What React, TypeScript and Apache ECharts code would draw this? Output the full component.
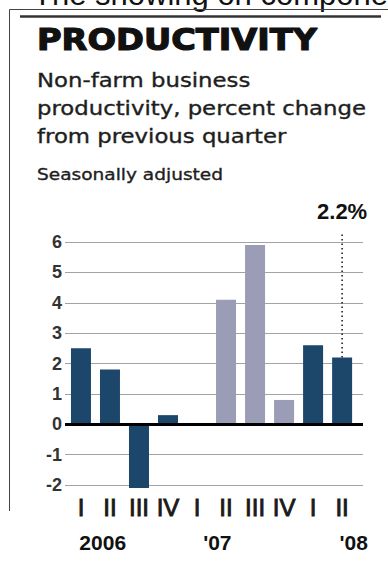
import React, { useEffect, useRef } from "react";
import * as echarts from "echarts";

const quarterLabels = ["I", "II", "III", "IV", "I", "II", "III", "IV", "I", "II"];
const barYears = [2006, 2006, 2006, 2006, 2007, 2007, 2007, 2007, 2008, 2008];
const productivity = [2.5, 1.8, -2.1, 0.3, 0, 4.1, 5.9, 0.8, 2.6, 2.2];
const yearLabels = ["2006", "'07", "'08"];
const yearLabelPositions = [0.75, 4.7, 9.4];
const yMin = -2;
const yMax = 6;
const highlightIndex = 9;
const highlightText = "2.2%";
const highlightLineTop = 6.27;

const NAVY = "#1d466b";
const GRAY = "#9b9cb5";

export default function App() {
  const ref = useRef<HTMLDivElement>(null);
  useEffect(() => {
    if (!ref.current) return;
    const chart = echarts.init(ref.current, undefined, { renderer: "svg" });
    const quarterPositions = quarterLabels.map((_, i) => i);
    const subStyle = (text: string, size: number) => ({
      text,
      fill: "#1e1e1e",
      stroke: "#1e1e1e",
      lineWidth: 0.35,
      font: `${size}px 'DejaVu Sans', sans-serif`,
      verticalAlign: "middle",
    });
    chart.setOption({
      animation: false,
      backgroundColor: "#ffffff",
      grid: { left: 65, right: 25, top: 242, bottom: 79, containLabel: false },
      xAxis: [
        {
          type: "value",
          min: -0.55,
          max: 9.72,
          axisLine: { show: false },
          axisTick: { show: false },
          splitLine: { show: false },
          axisLabel: {
            customValues: quarterPositions,
            formatter: (v: number) => quarterLabels[Math.round(v)] ?? "",
            margin: 22,
            verticalAlign: "middle",
            color: "#1a1a1a",
            fontFamily: "'Liberation Sans', Arial, sans-serif",
            fontSize: 24,
            textBorderColor: "#1a1a1a",
            textBorderWidth: 0.9,
          },
        },
        {
          type: "value",
          position: "bottom",
          min: -0.55,
          max: 9.72,
          axisLine: { show: false },
          axisTick: { show: false },
          splitLine: { show: false },
          axisLabel: {
            customValues: yearLabelPositions,
            formatter: (v: number) => {
              const idx = yearLabelPositions.findIndex((p) => Math.abs(p - v) < 1e-6);
              return idx >= 0 ? yearLabels[idx] : "";
            },
            margin: 57,
            verticalAlign: "middle",
            color: "#111",
            fontFamily: "'Liberation Sans', Arial, sans-serif",
            fontWeight: "bold",
            fontSize: 21,
          },
        },
      ],
      yAxis: {
        type: "value",
        min: yMin,
        max: yMax,
        interval: 1,
        axisLine: { show: false },
        axisTick: { show: false },
        splitLine: { lineStyle: { color: "#a3a3a3", width: 1 } },
        axisLabel: {
          margin: 3,
          color: "#333",
          fontFamily: "'Liberation Sans', Arial, sans-serif",
          fontWeight: "bold",
          fontSize: 18,
        },
      },
      series: [
        {
          type: "bar",
          xAxisIndex: 0,
          barWidth: 20,
          clip: false,
          data: productivity.map((v, i) => ({
            value: [i, v],
            itemStyle: { color: barYears[i] === 2007 ? GRAY : NAVY },
          })),
          markLine: {
            silent: true,
            symbol: "none",
            animation: false,
            data: [
              {
                yAxis: 0,
                lineStyle: { color: "#000", width: 3, type: "solid" },
                label: { show: false },
              },
            ],
          },
        },
        {
          type: "line",
          xAxisIndex: 0,
          clip: false,
          silent: true,
          symbol: "circle",
          symbolSize: 0.1,
          showSymbol: true,
          showAllSymbol: true,
          z: 5,
          itemStyle: { color: "rgba(0,0,0,0)" },
          lineStyle: { color: "#111", width: 1.5, type: [1.5, 3] },
          label: { show: false },
          data: [
            { value: [highlightIndex, productivity[highlightIndex]] },
            {
              value: [highlightIndex, highlightLineTop],
              label: {
                show: true,
                position: "top",
                distance: 11,
                formatter: highlightText,
                color: "#111",
                fontFamily: "'Liberation Sans', Arial, sans-serif",
                fontWeight: "bold",
                fontSize: 22,
              },
            },
          ],
        },
      ],
      graphic: [
        {
          type: "text",
          x: 33,
          y: -6,
          style: {
            text: "The showing on components",
            fill: "#111",
            font: "31px 'Liberation Sans', Arial, sans-serif",
            verticalAlign: "middle",
          },
        },
        { type: "line", shape: { x1: 9.5, y1: 9.5, x2: 388, y2: 9.5 }, style: { stroke: "#444", lineWidth: 1 } },
        { type: "line", shape: { x1: 9.5, y1: 9.5, x2: 9.5, y2: 511 }, style: { stroke: "#444", lineWidth: 1 } },
        { type: "line", shape: { x1: 20, y1: 16.5, x2: 381, y2: 16.5 }, style: { stroke: "#333", lineWidth: 2.5 } },
        {
          type: "text",
          x: 37,
          y: 39.5,
          scaleX: 1.12,
          style: {
            text: "PRODUCTIVITY",
            fill: "#111",
            stroke: "#111",
            lineWidth: 1.2,
            font: "bold 30px 'DejaVu Sans', sans-serif",
            verticalAlign: "middle",
          },
        },
        { type: "text", x: 37, y: 80.5, scaleX: 1.2, style: subStyle("Non-farm business", 19) },
        { type: "text", x: 37, y: 108.5, scaleX: 1.2, style: subStyle("productivity, percent change", 19) },
        { type: "text", x: 37, y: 136.5, scaleX: 1.2, style: subStyle("from previous quarter", 19) },
        { type: "text", x: 37, y: 174.5, scaleX: 1.16, style: subStyle("Seasonally adjusted", 16) },
      ],
    });
    return () => chart.dispose();
  }, []);
  return (
    <div
      ref={ref}
      style={{ position: "fixed", left: 0, top: 0, width: 388, height: 564, background: "#fff" }}
    />
  );
}
